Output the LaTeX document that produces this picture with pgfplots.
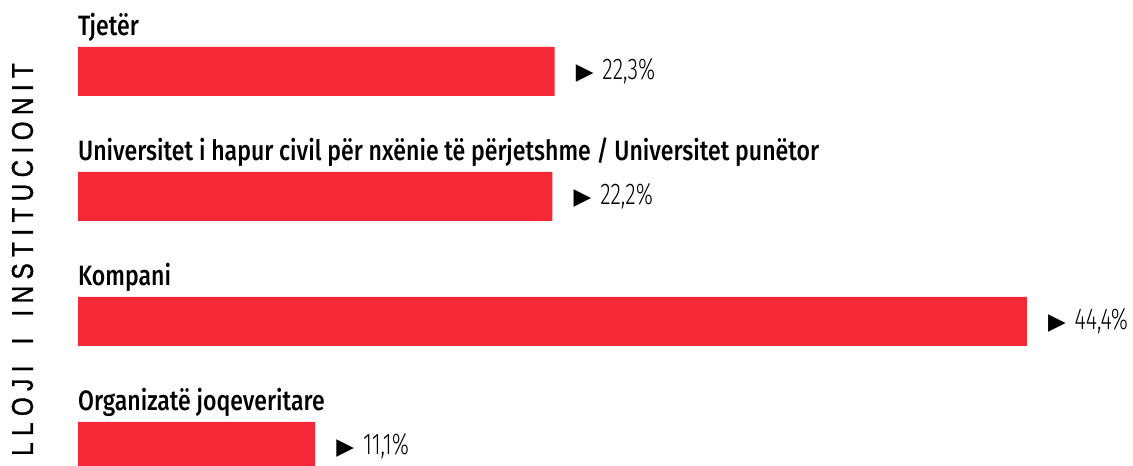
\documentclass[border=0pt]{standalone}
\usepackage{fontspec}
\usepackage{pgfplots}
\pgfplotsset{compat=1.18}
\setmainfont{Fira Sans Medium}[FakeStretch=0.824]
\newfontfamily\valfont{Fira Sans Light}[FakeStretch=0.72]
\newfontfamily\symfont{DejaVu Sans}
\newfontfamily\titlefont{Liberation Sans}[FakeStretch=0.8,FakeBold=1.2]
\definecolor{barred}{HTML}{F52838}
\newcommand\g{\hspace{6.55pt}}
\newcommand\wg{\hspace{21.2pt}}
\begin{document}
\begin{tikzpicture}[x=1pt,y=1pt]
\useasboundingbox (0,0) rectangle (1133,466);
\begin{axis}[
  at={(78pt,0pt)}, anchor=south west,
  scale only axis, width=1068.5pt, height=466pt,
  xmin=0, xmax=50, ymin=-0.156, ymax=3.572,
  axis lines=none, ticks=none,
  xbar, bar width=49pt, clip=false,
  point meta=explicit symbolic,
  nodes near coords={\valfont\fontsize{30}{32}\selectfont{\symfont\fontsize{23}{25}\selectfont ▶}\hspace{9pt}\pgfplotspointmeta\%},
  every node near coord/.append style={anchor=west, xshift=21pt, inner sep=0pt, text=black},
]
\addplot[fill=barred, draw=none] coordinates {
  (11.1,0) [11,1]
  (44.4,1) [44,4]
  (22.2,2) [22,2]
  (22.3,3) [22,3]
};
\foreach \k/\lab in {0/{Organizatë joqeveritare},1/{Kompani},2/{Universitet i hapur civil për nxënie të përjetshme / Universitet punëtor},3/{Tjetër}}{
  \edef\tmp{\noexpand\node[anchor=base west, inner sep=0pt, font=\noexpand\fontsize{28}{30}\noexpand\selectfont] at ([yshift=35.5pt]axis cs:0,\k) {\unexpanded\expandafter{\lab}};}
  \tmp
}
\end{axis}
\node[rotate=90, inner sep=0pt, font=\titlefont\fontsize{30}{32}\selectfont] at (22.5,206.5) {L\g L\g O\g J\g I\wg I\wg I\g N\g S\g T\g I\g T\g U\g C\g I\g O\g N\g I\g T};
\end{tikzpicture}
\end{document}
